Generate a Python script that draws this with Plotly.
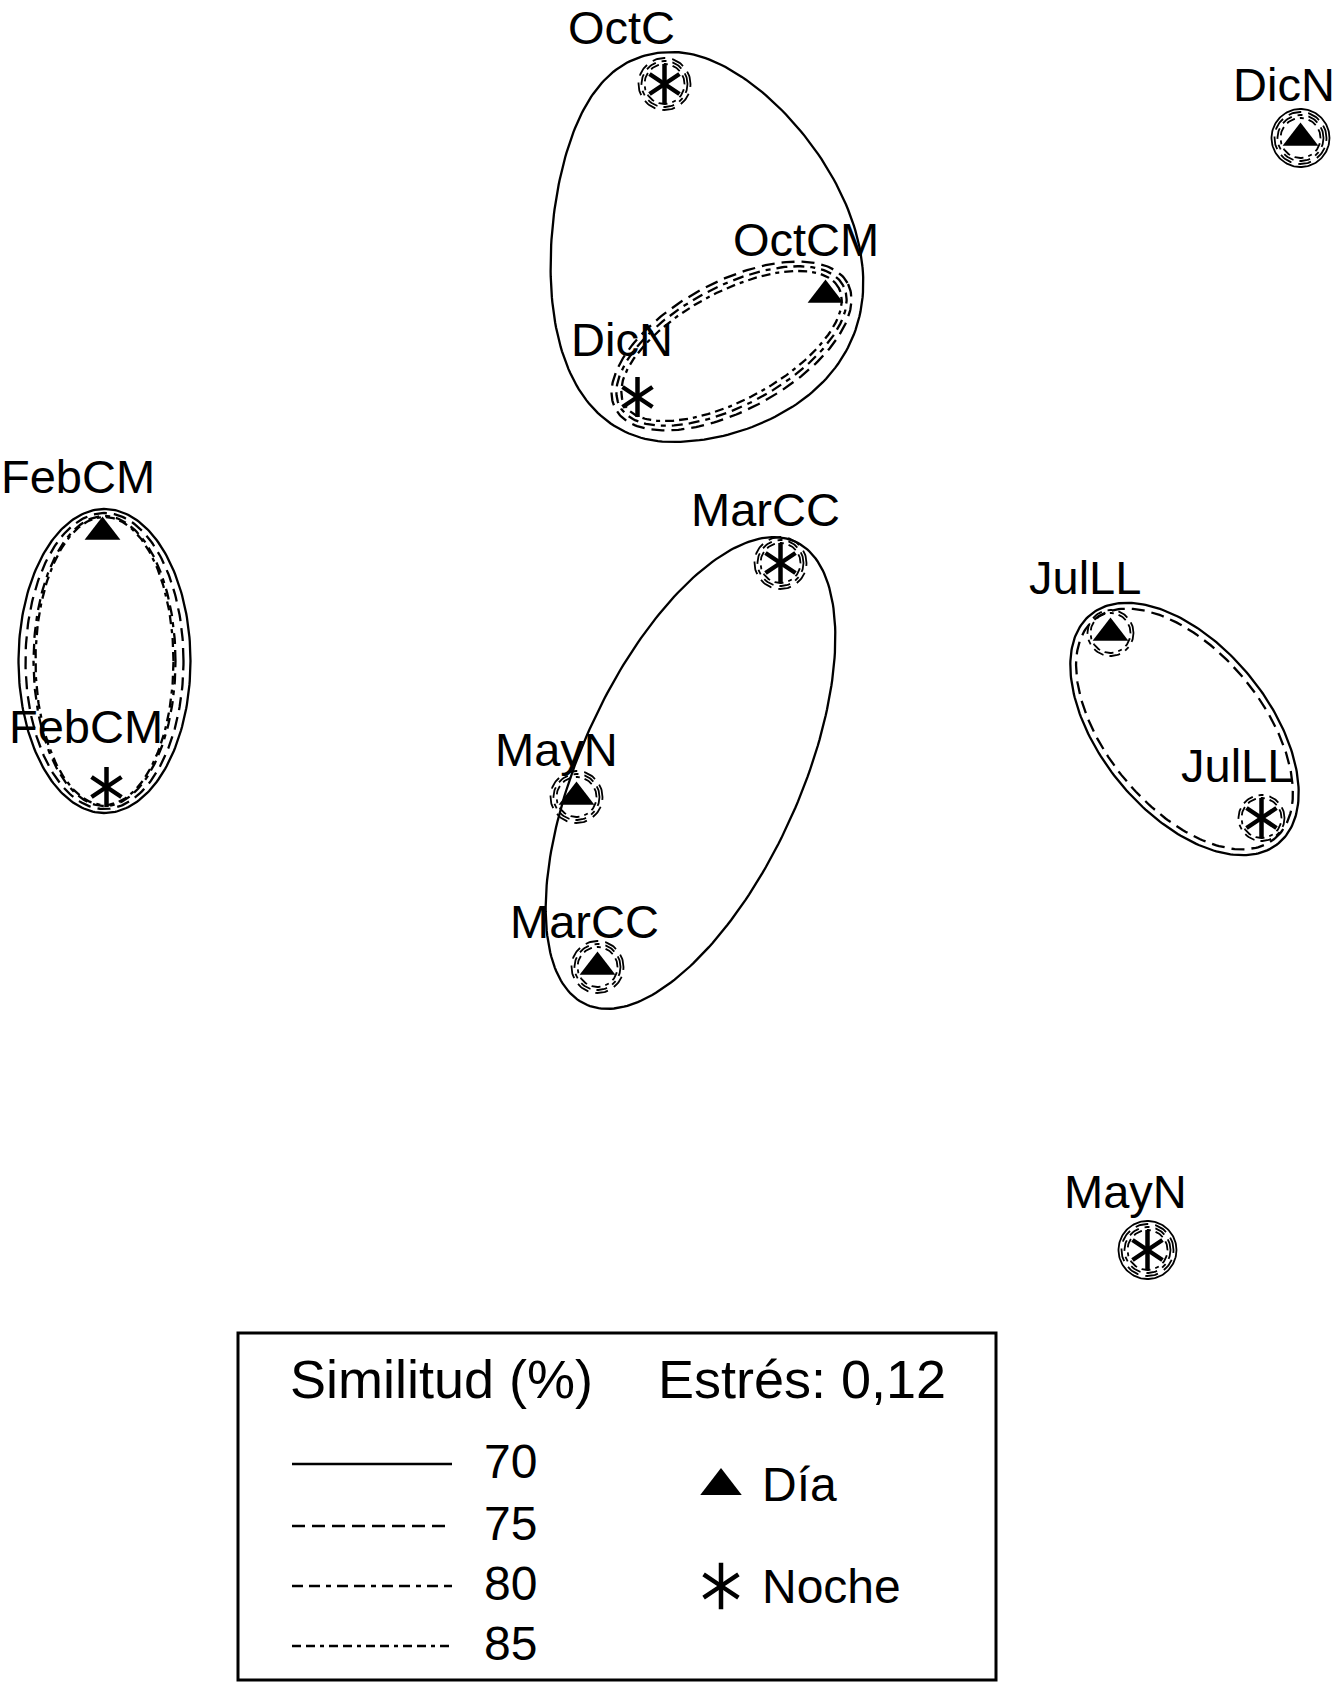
import numpy as np
import plotly.graph_objects as go

# ---------------- data (nMDS ordination) ----------------
labels = ["OctC", "OctCM", "DicN", "DicN", "FebCM", "FebCM",
          "MarCC", "MayN", "MarCC", "JulLL", "JulLL", "MayN"]
periodo = ["Noche", "Día", "Noche", "Día", "Día", "Noche",
           "Noche", "Día", "Día", "Día", "Noche", "Noche"]
mds1 = [-0.04, 1.57, -0.31, 6.32, -5.66, -5.62, 1.12, -0.92, -0.71, 4.42, 5.93, 4.79]
mds2 = [7.57, 5.46, 4.44, 7.03, 3.09, 0.54, 2.78, 0.44, -1.26, 2.08, 0.23, -4.09]

similitud = [70, 75, 80, 85]
# sample groups (indices) formed at each similarity level
clusters = {
    70: [[0, 1, 2], [4, 5], [6, 7, 8], [9, 10]],
    75: [[1, 2], [4, 5], [9, 10]],
    80: [[1, 2], [4, 5]],
    85: [[1, 2], [4, 5]],
}
estres = "0,12"
legend_sym = ["Día", "Noche"]

# ---------------- styles / geometry ----------------
W, H = 1337, 1682
XR = [-6.685, 6.685]
YR = [-8.41, 8.41]
FONT = "Liberation Sans, Arial, Helvetica, sans-serif"
DASH = {70: "solid", 75: "13px,7px", 80: "11px,6px,11px,6px,5px,6px", 85: "9px,5px,9px,5px,4px,5px"}
RING_R = {70: 0.29, 75: 0.26, 80: 0.23, 85: 0.20}

# outline geometry for each (level, group index)
HULLS = {
    (70, 0): dict(cx=0.04, cy=5.94, a=1.55, b=1.95, egg=0.12, bulge=0.35, tilt=-0.2),
    (70, 1): dict(cx=-5.64, cy=1.80, a=0.86, b=1.52),
    (70, 2): dict(cx=0.22, cy=0.68, a=2.54, b=1.10, angle=65.7),
    (70, 3): dict(cx=5.16, cy=1.12, a=1.48, b=0.84, angle=-50.6),
    (75, 0): dict(cx=0.63, cy=4.95, a=1.32, b=0.64, angle=28.5),
    (75, 1): dict(cx=-5.64, cy=1.80, a=0.79, b=1.48),
    (75, 2): dict(cx=5.16, cy=1.12, a=1.42, b=0.78, angle=-50.6),
    (80, 0): dict(cx=0.63, cy=4.95, a=1.27, b=0.59, angle=28.5),
    (80, 1): dict(cx=-5.64, cy=1.80, a=0.71, b=1.45),
    (85, 0): dict(cx=0.63, cy=4.95, a=1.22, b=0.54, angle=28.5),
    (85, 1): dict(cx=-5.64, cy=1.80, a=0.69, b=1.44),
}

# label offsets in pixels (dx, dy upward)
LABEL_NUDGE = [(-43, 57), (-20, 56), (-16, 58), (-17, 54), (-25, 56), (-21, 61),
               (-15, 54), (-20, 48), (-13, 46), (-26, 56), (-25, 53), (-22, 59)]


def outline(cx, cy, a, b, angle=0.0, egg=0.0, bulge=0.0, tilt=0.0, n=240):
    t = np.linspace(0, 2 * np.pi, n)
    c, s = np.cos(t), np.sin(t)
    x = a * c * (1 - egg * s) + bulge * c ** 2
    y = b * s + tilt * c * np.abs(c)
    th = np.deg2rad(angle)
    xr = x * np.cos(th) - y * np.sin(th)
    yr = x * np.sin(th) + y * np.cos(th)
    return cx + xr, cy + yr


def px2x(p):
    return XR[0] + p / W * (XR[1] - XR[0])


def px2y(p):
    return YR[1] - p / H * (YR[1] - YR[0])


fig = go.Figure()

# group outlines
for lev in similitud:
    for gi, grp in enumerate(clusters[lev]):
        if len(grp) < 2:
            continue
        xs, ys = outline(**HULLS[(lev, gi)])
        fig.add_trace(go.Scatter(x=xs, y=ys, mode="lines", hoverinfo="skip",
                                 line=dict(color="black", width=2.3, dash=DASH[lev]),
                                 showlegend=False))

# singleton rings
for lev in similitud:
    grouped = set(i for g in clusters[lev] for i in g if len(g) > 1)
    for i in range(len(labels)):
        if i in grouped:
            continue
        xs, ys = outline(mds1[i], mds2[i], RING_R[lev], RING_R[lev], n=120)
        fig.add_trace(go.Scatter(x=xs, y=ys, mode="lines", hoverinfo="skip",
                                 line=dict(color="black", width=1.8, dash=DASH[lev]),
                                 showlegend=False))

# points
dia = [i for i, p in enumerate(periodo) if p == "Día"]
noche = [i for i, p in enumerate(periodo) if p == "Noche"]
fig.add_trace(go.Scatter(x=[mds1[i] for i in dia], y=[mds2[i] for i in dia],
                         mode="markers", name="Día", showlegend=False,
                         marker=dict(symbol="triangle-up", size=31, color="black",
                                     line=dict(width=0))))
for sym in ["y-up-open", "y-down-open"]:
    fig.add_trace(go.Scatter(x=[mds1[i] for i in noche], y=[mds2[i] for i in noche],
                             mode="markers", name="Noche", showlegend=False,
                             marker=dict(symbol=sym, size=25, color="black",
                                         line=dict(width=4.5, color="black"))))

# sample labels
for i, lab in enumerate(labels):
    dx, dy = LABEL_NUDGE[i]
    fig.add_annotation(x=mds1[i], y=mds2[i], text=lab, showarrow=False,
                       xshift=dx, yshift=dy, xanchor="center", yanchor="middle",
                       font=dict(family=FONT, size=47, color="black"))

# ---------------- legend box ----------------
fig.add_shape(type="rect", xref="x", yref="y",
              x0=px2x(238), x1=px2x(996), y0=px2y(1333), y1=px2y(1680),
              line=dict(color="black", width=3), fillcolor="white", layer="below")

fig.add_annotation(x=px2x(288), y=px2y(1379), text="Similitud (%)", showarrow=False,
                   xanchor="left", yanchor="middle",
                   font=dict(family=FONT, size=54, color="black"))
fig.add_annotation(x=px2x(656), y=px2y(1379), text=f"Estrés: {estres}", showarrow=False,
                   xanchor="left", yanchor="middle",
                   font=dict(family=FONT, size=54, color="black"))

leg_rows = [1464, 1526, 1586, 1646]
for lev, ry in zip(similitud, leg_rows):
    fig.add_shape(type="line", xref="x", yref="y",
                  x0=px2x(292), x1=px2x(452), y0=px2y(ry), y1=px2y(ry),
                  line=dict(color="black", width=2.6, dash=DASH[lev]))
    fig.add_annotation(x=px2x(482), y=px2y(ry - 3), text=str(lev), showarrow=False,
                       xanchor="left", yanchor="middle",
                       font=dict(family=FONT, size=48, color="black"))

sym_rows = [1484, 1586]
fig.add_trace(go.Scatter(x=[px2x(721)], y=[px2y(sym_rows[0] + 2)], mode="markers",
                         hoverinfo="skip", showlegend=False,
                         marker=dict(symbol="triangle-up", size=36, color="black")))
for sym in ["y-up-open", "y-down-open"]:
    fig.add_trace(go.Scatter(x=[px2x(721)], y=[px2y(sym_rows[1])], mode="markers",
                             hoverinfo="skip", showlegend=False,
                             marker=dict(symbol=sym, size=29, color="black",
                                         line=dict(width=4.5, color="black"))))
for name, ry in zip(legend_sym, sym_rows):
    fig.add_annotation(x=px2x(760), y=px2y(ry), text=name, showarrow=False,
                       xanchor="left", yanchor="middle",
                       font=dict(family=FONT, size=48, color="black"))

fig.update_layout(
    width=W, height=H,
    margin=dict(l=0, r=0, t=0, b=0),
    paper_bgcolor="white", plot_bgcolor="white",
    xaxis=dict(range=XR, visible=False, fixedrange=True),
    yaxis=dict(range=YR, visible=False, fixedrange=True),
    showlegend=False,
)

fig.write_html("out.html", config={"displayModeBar": False},
               post_script="document.body.style.margin='0px';document.body.style.overflow='hidden';")
